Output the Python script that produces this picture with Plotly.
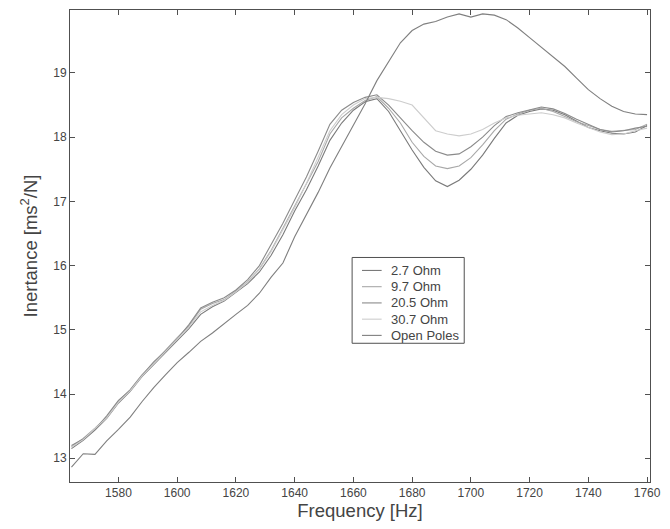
import plotly.graph_objects as go

# Frequency grid shared by all measured curves [Hz]
freq = [1564, 1568, 1572, 1576, 1580, 1584, 1588, 1592, 1596, 1600,
        1604, 1608, 1612, 1616, 1620, 1624, 1628, 1632, 1636, 1640,
        1644, 1648, 1652, 1656, 1660, 1664, 1668, 1672, 1676, 1680,
        1684, 1688, 1692, 1696, 1700, 1704, 1708, 1712, 1716, 1720,
        1724, 1728, 1732, 1736, 1740, 1744, 1748, 1752, 1756, 1760]

# Inertance [ms^2/N] for each shunt resistance
ohm_2_7 = [13.15, 13.28, 13.44, 13.62, 13.86, 14.04, 14.27, 14.46, 14.65, 14.84,
           15.02, 15.24, 15.36, 15.45, 15.58, 15.72, 15.90, 16.16, 16.48, 16.85,
           17.18, 17.55, 17.95, 18.22, 18.42, 18.55, 18.60, 18.40, 18.10, 17.80,
           17.53, 17.32, 17.23, 17.33, 17.50, 17.72, 17.98, 18.22, 18.34, 18.40,
           18.44, 18.42, 18.35, 18.25, 18.15, 18.10, 18.06, 18.05, 18.08, 18.18]

ohm_9_7 = [13.18, 13.31, 13.47, 13.64, 13.89, 14.07, 14.30, 14.48, 14.68, 14.88,
           15.06, 15.32, 15.41, 15.47, 15.60, 15.75, 15.95, 16.24, 16.58, 16.92,
           17.26, 17.62, 18.05, 18.30, 18.45, 18.57, 18.63, 18.45, 18.22, 17.92,
           17.70, 17.55, 17.51, 17.55, 17.68, 17.88, 18.10, 18.28, 18.36, 18.42,
           18.45, 18.40, 18.32, 18.24, 18.18, 18.12, 18.09, 18.10, 18.12, 18.20]

ohm_20_5 = [13.20, 13.30, 13.45, 13.66, 13.90, 14.06, 14.29, 14.50, 14.67, 14.86,
            15.08, 15.34, 15.43, 15.50, 15.62, 15.78, 16.00, 16.32, 16.66, 17.02,
            17.38, 17.78, 18.20, 18.42, 18.54, 18.62, 18.66, 18.50, 18.30, 18.10,
            17.92, 17.78, 17.72, 17.74, 17.85, 18.00, 18.18, 18.32, 18.38, 18.43,
            18.47, 18.44, 18.37, 18.28, 18.20, 18.12, 18.08, 18.10, 18.14, 18.17]

ohm_30_7 = [13.17, 13.29, 13.46, 13.63, 13.87, 14.05, 14.28, 14.47, 14.66, 14.85,
            15.04, 15.28, 15.38, 15.46, 15.59, 15.74, 15.94, 16.22, 16.55, 16.90,
            17.28, 17.68, 18.10, 18.35, 18.50, 18.60, 18.62, 18.60, 18.56, 18.50,
            18.30, 18.10, 18.05, 18.02, 18.05, 18.12, 18.22, 18.30, 18.34, 18.36,
            18.38, 18.35, 18.30, 18.22, 18.15, 18.08, 18.04, 18.05, 18.10, 18.14]

open_poles = [12.86, 13.07, 13.06, 13.27, 13.45, 13.64, 13.88, 14.10, 14.30, 14.49,
              14.65, 14.82, 14.95, 15.10, 15.24, 15.38, 15.57, 15.82, 16.04, 16.45,
              16.80, 17.14, 17.52, 17.85, 18.20, 18.52, 18.88, 19.18, 19.47, 19.66,
              19.76, 19.80, 19.87, 19.92, 19.87, 19.92, 19.90, 19.83, 19.70, 19.55,
              19.40, 19.25, 19.10, 18.92, 18.74, 18.60, 18.48, 18.40, 18.36, 18.35]

series_names = ["2.7 Ohm", "9.7 Ohm", "20.5 Ohm", "30.7 Ohm", "Open Poles"]
series_values = [ohm_2_7, ohm_9_7, ohm_20_5, ohm_30_7, open_poles]
series_colors = ["#7a7a7a", "#a8a8a8", "#8a8a8a", "#cdcdcd", "#7f7f7f"]

x_ticks = [1580, 1600, 1620, 1640, 1660, 1680, 1700, 1720, 1740, 1760]
y_ticks = [13, 14, 15, 16, 17, 18, 19]

FONT = "Liberation Sans, Arial, sans-serif"
FRAME = "#505050"
TEXT = "#444444"

fig = go.Figure()
for name, vals, col in zip(series_names, series_values, series_colors):
    fig.add_trace(go.Scatter(x=freq, y=vals, name=name, mode="lines",
                             line=dict(color=col, width=1.1), showlegend=False))

axis_common = dict(
    showline=True, linecolor=FRAME, linewidth=1, mirror="ticks",
    ticks="inside", ticklen=5, tickcolor=FRAME, tickwidth=1,
    showgrid=False, zeroline=False, ticklabeloverflow="allow",
    tickfont=dict(family=FONT, size=12, color=TEXT),
)

# Compact boxed legend placed in plot-area (paper) coordinates
box_x0, box_x1 = 0.4864, 0.6797
box_y0, box_y1 = 0.2939, 0.4757
row_top = 0.4482
row_step = 0.0344
line_x0, line_x1 = 0.5034, 0.5373
text_x = 0.5508

shapes = [dict(type="rect", xref="paper", yref="paper",
               x0=box_x0, x1=box_x1, y0=box_y0, y1=box_y1,
               line=dict(color=FRAME, width=1), fillcolor="white", layer="above")]
annotations = []
for i, (name, col) in enumerate(zip(series_names, series_colors)):
    yy = row_top - i * row_step
    shapes.append(dict(type="line", xref="paper", yref="paper",
                       x0=line_x0, x1=line_x1, y0=yy, y1=yy,
                       line=dict(color=col, width=1.1), layer="above"))
    annotations.append(dict(xref="paper", yref="paper", x=text_x, y=yy,
                            xanchor="left", yanchor="middle", text=name,
                            showarrow=False,
                            font=dict(family=FONT, size=13, color=TEXT)))

fig.update_layout(
    width=670, height=529,
    margin=dict(l=70, r=10, t=9, b=47),
    paper_bgcolor="white", plot_bgcolor="white",
    font=dict(family=FONT, color=TEXT),
    xaxis=dict(range=[1563.5, 1761], tickvals=x_ticks,
               title=dict(text="Frequency [Hz]", font=dict(size=18.5), standoff=4),
               **axis_common),
    yaxis=dict(range=[12.63, 19.98], tickvals=y_ticks,
               title=dict(text="Inertance [ms<sup>2</sup>/N]", font=dict(size=18.5), standoff=10),
               **axis_common),
    shapes=shapes,
    annotations=annotations,
    showlegend=False,
)

fig.write_html("out.html")
